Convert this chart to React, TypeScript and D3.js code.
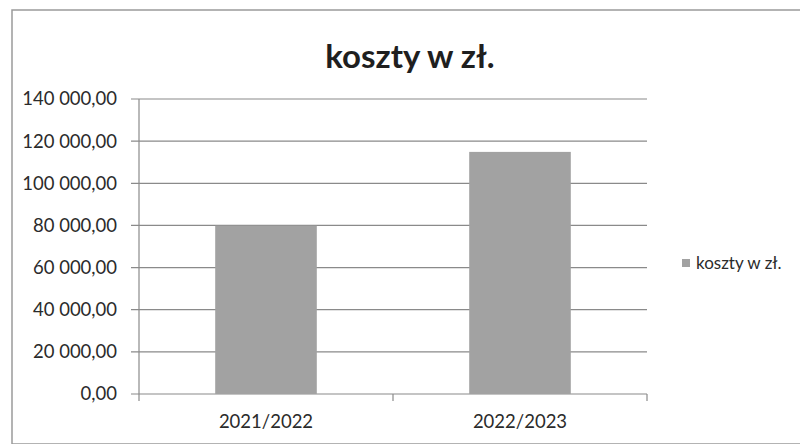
import React from "react";
import * as d3 from "d3";

const categories = ["2021/2022", "2022/2023"];
const costs = [79900, 114900];
const yTicks = [0, 20000, 40000, 60000, 80000, 100000, 120000, 140000];
const title = "koszty w zł.";
const seriesName = "koszty w zł.";

const W = 800;
const H = 444;
const plot = { left: 139, right: 647, top: 99, bottom: 394 };
const font = "Lato, 'Open Sans', sans-serif";

const fmt = (v: number) => {
  const s = d3.format(",.2f")(v);
  return s.replace(/,/g, " ").replace(".", ",");
};

export default function App() {
  const x = d3
    .scaleBand<string>()
    .domain(categories)
    .range([plot.left, plot.right])
    .paddingInner(0.6)
    .paddingOuter(0.3);
  const band = d3.scaleBand<string>().domain(categories).range([plot.left, plot.right]);
  const y = d3.scaleLinear().domain([0, 140000]).range([plot.bottom, plot.top]);
  const textColor = "#2b2b2b";
  const gridColor = "#8a8a8a";

  return (
    <svg
      width={W}
      height={H}
      style={{ position: "absolute", left: 0, top: 0, background: "#fff" }}
    >
      <rect x={0} y={0} width={W} height={H} fill="#fff" />
      <rect x={12} y={10} width={790} height={434} fill="none" stroke="#9a9a9a" strokeWidth={1.5} />
      <text
        x={410}
        y={68}
        textAnchor="middle"
        fontFamily={font}
        fontWeight="bold"
        fontSize={33}
        fill="#1f1f1f"
      >
        {title}
      </text>
      {yTicks.map((t) => (
        <g key={t}>
          <line
            x1={plot.left - 8}
            x2={plot.right}
            y1={y(t)}
            y2={y(t)}
            stroke={gridColor}
            strokeWidth={1.2}
          />
          <text
            x={117}
            y={y(t)}
            dy="0.35em"
            textAnchor="end"
            fontFamily={font}
            fontSize={18.5}
            fill={textColor}
          >
            {fmt(t)}
          </text>
        </g>
      ))}
      <line x1={plot.left} x2={plot.left} y1={plot.top} y2={plot.bottom} stroke={gridColor} strokeWidth={1.2} />
      {[...categories.map((c) => band(c) as number), plot.right].map((px, i) => (
        <line key={i} x1={px} x2={px} y1={plot.bottom} y2={plot.bottom + 7} stroke={gridColor} strokeWidth={1.2} />
      ))}
      {categories.map((c, i) => (
        <rect
          key={c}
          x={x(c)}
          y={y(costs[i])}
          width={x.bandwidth()}
          height={plot.bottom - y(costs[i])}
          fill="#a2a2a2"
        />
      ))}
      {categories.map((c) => (
        <text
          key={c}
          x={(band(c) as number) + band.bandwidth() / 2}
          y={428}
          textAnchor="middle"
          fontFamily={font}
          fontSize={18.5}
          fill={textColor}
        >
          {c}
        </text>
      ))}
      <rect x={682} y={259} width={8} height={8} fill="#a2a2a2" />
      <text x={696} y={263} dy="0.35em" fontFamily={font} fontSize={17} fill={textColor}>
        {seriesName}
      </text>
    </svg>
  );
}
